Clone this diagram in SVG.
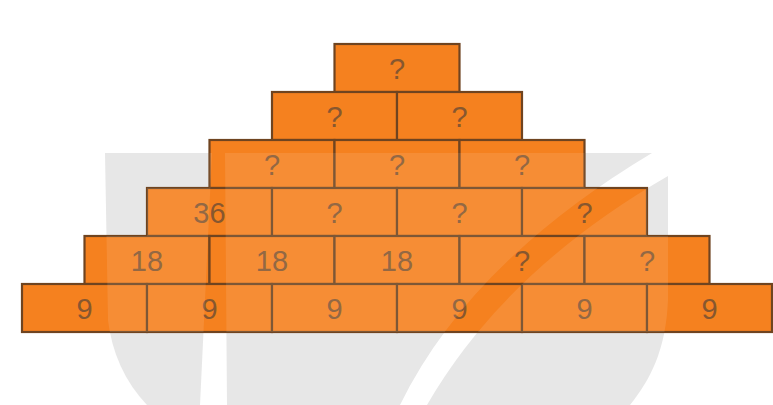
<svg xmlns="http://www.w3.org/2000/svg" width="773" height="405" viewBox="0 0 773 405">
  <style>
    .brick { fill: #f5811f; stroke: #6f4420; stroke-width: 2.2; }
    .lbl { font-family: "Liberation Sans", Arial, sans-serif; font-size: 29px; fill: #87572f; text-anchor: middle; }
    .wm { fill: #e7e7e7; }
    .wmo { fill: #ffffff; opacity: 0.1; }
  </style>
  <defs>
    <clipPath id="pyr">
      <polygon points="334.5,44 459.5,44 459.5,92 522,92 522,140 584.5,140 584.5,188 647,188 647,236 709.5,236 709.5,284 772,284 772,332 22,332 22,284 84.5,284 84.5,236 147,236 147,188 209.5,188 209.5,140 272,140 272,92 334.5,92"/>
    </clipPath>
  </defs>
  <rect width="773" height="405" fill="#ffffff"/>
  <g id="watermark">
    <path class="wm" d="M105,153 L212,153 L200,405 L147,405 Q114,370 108,320 Z"/>
    <path class="wm" d="M225,153 L652,153 Q470,262 400,405 L227,405 Z"/>
    <path class="wm" d="M668,176 L668,300 C666,350 650,380 630,405 L427,405 Q505,270 668,176 Z"/>
  </g>
  <g id="bricks">
    <g id="r1b1"><rect class="brick" x="334.5" y="44" width="125" height="48"/><text class="lbl" x="397" y="79">?</text></g>
    <g id="r2b1"><rect class="brick" x="272" y="92" width="125" height="48"/><text class="lbl" x="334.5" y="127">?</text></g>
    <g id="r2b2"><rect class="brick" x="397" y="92" width="125" height="48"/><text class="lbl" x="459.5" y="127">?</text></g>
    <g id="r3b1"><rect class="brick" x="209.5" y="140" width="125" height="48"/><text class="lbl" x="272" y="175">?</text></g>
    <g id="r3b2"><rect class="brick" x="334.5" y="140" width="125" height="48"/><text class="lbl" x="397" y="175">?</text></g>
    <g id="r3b3"><rect class="brick" x="459.5" y="140" width="125" height="48"/><text class="lbl" x="522" y="175">?</text></g>
    <g id="r4b1"><rect class="brick" x="147" y="188" width="125" height="48"/><text class="lbl" x="209.5" y="223">36</text></g>
    <g id="r4b2"><rect class="brick" x="272" y="188" width="125" height="48"/><text class="lbl" x="334.5" y="223">?</text></g>
    <g id="r4b3"><rect class="brick" x="397" y="188" width="125" height="48"/><text class="lbl" x="459.5" y="223">?</text></g>
    <g id="r4b4"><rect class="brick" x="522" y="188" width="125" height="48"/><text class="lbl" x="584.5" y="223">?</text></g>
    <g id="r5b1"><rect class="brick" x="84.5" y="236" width="125" height="48"/><text class="lbl" x="147" y="271">18</text></g>
    <g id="r5b2"><rect class="brick" x="209.5" y="236" width="125" height="48"/><text class="lbl" x="272" y="271">18</text></g>
    <g id="r5b3"><rect class="brick" x="334.5" y="236" width="125" height="48"/><text class="lbl" x="397" y="271">18</text></g>
    <g id="r5b4"><rect class="brick" x="459.5" y="236" width="125" height="48"/><text class="lbl" x="522" y="271">?</text></g>
    <g id="r5b5"><rect class="brick" x="584.5" y="236" width="125" height="48"/><text class="lbl" x="647" y="271">?</text></g>
    <g id="r6b1"><rect class="brick" x="22" y="284" width="125" height="48"/><text class="lbl" x="84.5" y="319">9</text></g>
    <g id="r6b2"><rect class="brick" x="147" y="284" width="125" height="48"/><text class="lbl" x="209.5" y="319">9</text></g>
    <g id="r6b3"><rect class="brick" x="272" y="284" width="125" height="48"/><text class="lbl" x="334.5" y="319">9</text></g>
    <g id="r6b4"><rect class="brick" x="397" y="284" width="125" height="48"/><text class="lbl" x="459.5" y="319">9</text></g>
    <g id="r6b5"><rect class="brick" x="522" y="284" width="125" height="48"/><text class="lbl" x="584.5" y="319">9</text></g>
    <g id="r6b6"><rect class="brick" x="647" y="284" width="125" height="48"/><text class="lbl" x="709.5" y="319">9</text></g>
  </g>
  <g id="watermark-overlay" clip-path="url(#pyr)">
    <path class="wmo" d="M105,153 L212,153 L200,405 L147,405 Q114,370 108,320 Z"/>
    <path class="wmo" d="M225,153 L652,153 Q470,262 400,405 L227,405 Z"/>
    <path class="wmo" d="M668,176 L668,300 C666,350 650,380 630,405 L427,405 Q505,270 668,176 Z"/>
  </g>
</svg>
